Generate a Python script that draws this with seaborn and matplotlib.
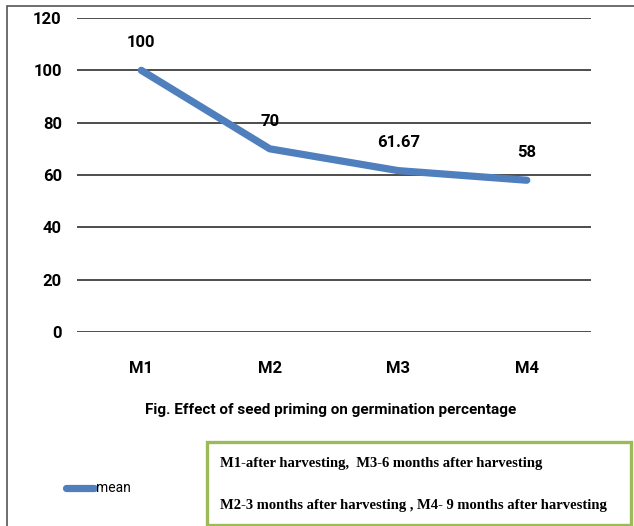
import matplotlib
matplotlib.use("Agg")
import matplotlib.pyplot as plt
import seaborn as sns
import pandas as pd
from matplotlib.patches import Rectangle
from matplotlib.lines import Line2D

# Germination percentage by storage period
periods = ["M1", "M2", "M3", "M4"]
mean_values = [100, 70, 61.67, 58]
value_labels = ["100", "70", "61.67", "58"]
y_ticks = [0, 20, 40, 60, 80, 100, 120]

sns.set_theme(style="white")
plt.rcParams["font.family"] = ["Roboto", "DejaVu Sans"]

BLUE = "#4f7fbd"
GREEN = "#9bbb59"
GRID = "#4d4d4d"

df = pd.DataFrame({"period": periods, "mean": mean_values})

fig = plt.figure(figsize=(6.34, 5.26), dpi=100)
ax = fig.add_axes([0.1215, 0.3688, 0.8107, 0.597])

for t in y_ticks:
    ax.axhline(t, color=GRID, lw=1.4, zorder=1)

sns.lineplot(data=df, x="period", y="mean", ax=ax, color=BLUE, lw=5.2,
             solid_capstyle="round", solid_joinstyle="round", zorder=3,
             legend=False)

for i, (v, lab) in enumerate(zip(mean_values, value_labels)):
    ax.annotate(lab, (i, v), xytext=(0, 20), textcoords="offset points",
                ha="center", va="center", fontsize=12, fontweight="bold",
                color="black")

ax.set_ylim(0, 120)
ax.set_xlim(-0.5, 3.5)
ax.set_yticks(y_ticks)
ax.set_xlabel("")
ax.set_ylabel("")
for s in ax.spines.values():
    s.set_visible(False)
ax.tick_params(axis="y", length=0, pad=11, labelsize=12, labelcolor="black")
ax.tick_params(axis="x", length=0, pad=21, labelsize=12, labelcolor="black")
for lab in ax.get_yticklabels() + ax.get_xticklabels():
    lab.set_fontweight("bold")

fig.text(331 / 634, 1 - 410 / 526,
         "Fig. Effect of seed priming on germination percentage",
         ha="center", va="center", fontsize=11, fontweight="bold",
         color="black")

# outer frame
fig.add_artist(Rectangle((7 / 634, -0.01), 1.1, 1 - 6 / 526 + 0.01,
                         transform=fig.transFigure, fill=False,
                         edgecolor="#555555", lw=1.2))

# legend entry
y_leg = 1 - 488 / 526
fig.add_artist(Line2D([66 / 634, 94 / 634], [y_leg, y_leg],
                      transform=fig.transFigure, color=BLUE, lw=5.2,
                      solid_capstyle="round"))
fig.text(96 / 634, y_leg, "mean", ha="left", va="center", fontsize=10,
         color="black")

# key box
fig.add_artist(Rectangle((207 / 634, 1 - 525 / 526), (631 - 207) / 634,
                         (525 - 442) / 526, transform=fig.transFigure,
                         fill=False, edgecolor=GREEN, lw=2.4))
serif = ["Liberation Serif", "DejaVu Serif"]
fig.text(220 / 634, 1 - 464 / 526,
         "M1-after harvesting,  M3-6 months after harvesting",
         ha="left", va="center", fontsize=10.5, fontweight="bold",
         family=serif, color="black")
fig.text(220 / 634, 1 - 506 / 526,
         "M2-3 months after harvesting , M4- 9 months after harvesting",
         ha="left", va="center", fontsize=10.5, fontweight="bold",
         family=serif, color="black")

fig.savefig("out.png", dpi=100)
